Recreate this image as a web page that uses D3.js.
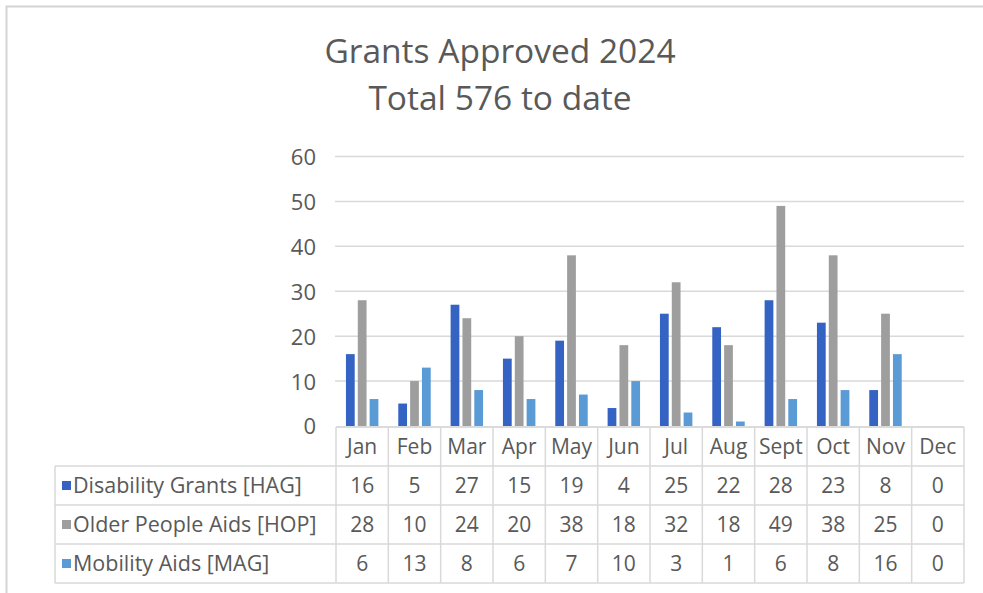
<!DOCTYPE html>
<html>
<head>
<meta charset="utf-8">
<script src="https://cdn.jsdelivr.net/npm/d3@7"></script>
<style>
  html, body { margin: 0; background: #fff; overflow: hidden; }
  svg { display: block; }
  svg text { font-family: "Open Sans", Lato, sans-serif; fill: #595959; }
</style>
</head>
<body>
<svg width="983" height="593"></svg>
<script>
// chart data
const months = ['Jan', 'Feb', 'Mar', 'Apr', 'May', 'Jun', 'Jul', 'Aug', 'Sept', 'Oct', 'Nov', 'Dec']
const seriesNames = ['Disability Grants [HAG]', 'Older People Aids [HOP]', 'Mobility Aids [MAG]']
const hag = [16, 5, 27, 15, 19, 4, 25, 22, 28, 23, 8, 0]
const hop = [28, 10, 24, 20, 38, 18, 32, 18, 49, 38, 25, 0]
const mag = [6, 13, 8, 6, 7, 10, 3, 1, 6, 8, 16, 0]
const colors = ['#3563c4', '#9e9e9e', '#5b9bd5']
const yTicks = [0, 10, 20, 30, 40, 50, 60]
const titleLines = ['Grants Approved 2024', 'Total 576 to date']

const values = [hag, hop, mag]
const svg = d3.select('svg')

// light frame, only left and top edges show
svg.append('path')
  .attr('d', 'M6.5,593 V6.5 H983')
  .attr('fill', 'none')
  .attr('stroke', '#d4d4d4')
  .attr('stroke-width', 2)

// title
svg.append('g').selectAll('text')
  .data(titleLines)
  .join('text')
  .attr('x', 500)
  .attr('y', (d, i) => 63 + i * 47)
  .attr('text-anchor', 'middle')
  .attr('font-size', 33.5)
  .text(d => d)

const x = d3.scaleBand().domain(months).range([336, 964])
const x1 = d3.scaleBand().domain(seriesNames)
  .range([x.bandwidth() * 0.19, x.bandwidth() * 0.81])
  .paddingInner(0.26)
const y = d3.scaleLinear().domain([0, 60]).range([426, 156.5])

// gridlines
svg.append('g').selectAll('line')
  .data(yTicks.slice(1))
  .join('line')
  .attr('x1', 335).attr('x2', 964)
  .attr('y1', d => y(d)).attr('y2', d => y(d))
  .attr('stroke', '#d9d9d9')
  .attr('stroke-width', 1.5)

// y axis labels
const yAxis = svg.append('g')
  .attr('transform', 'translate(316,0)')
  .call(d3.axisLeft(y).tickValues(yTicks).tickSize(0).tickPadding(0))
yAxis.select('.domain').remove()
yAxis.selectAll('text')
  .attr('font-size', 22)
  .attr('font-family', '"Open Sans", sans-serif')
  .attr('fill', '#606060')
  .attr('dy', '0.36em')

// bars
const groups = svg.append('g').selectAll('g')
  .data(months)
  .join('g')
  .attr('transform', d => `translate(${x(d)},0)`)

groups.selectAll('rect')
  .data((m, i) => seriesNames.map((s, k) => ({ s, k, v: values[k][i] })))
  .join('rect')
  .attr('x', d => x1(d.s))
  .attr('width', x1.bandwidth())
  .attr('y', d => y(d.v))
  .attr('height', d => y(0) - y(d.v))
  .attr('fill', d => colors[d.k])

// data table
const rows = d3.scaleBand().domain(['head', ...seriesNames]).range([427, 583])
const table = svg.append('g')
const lineColor = '#d9d9d9'

// horizontal lines
table.append('line')
  .attr('x1', 336).attr('x2', 964)
  .attr('y1', rows('head')).attr('y2', rows('head'))
  .attr('stroke', '#cfcfcf').attr('stroke-width', 1.5)
table.selectAll('.hline')
  .data(seriesNames)
  .join('line')
  .attr('class', 'hline')
  .attr('x1', 55).attr('x2', 964)
  .attr('y1', d => rows(d)).attr('y2', d => rows(d))
  .attr('stroke', lineColor).attr('stroke-width', 1.5)
table.append('line')
  .attr('x1', 55).attr('x2', 964)
  .attr('y1', 583).attr('y2', 583)
  .attr('stroke', lineColor).attr('stroke-width', 1.5)

// vertical lines
table.selectAll('.vline')
  .data([...months.map(m => x(m)), 964])
  .join('line')
  .attr('class', 'vline')
  .attr('x1', d => d).attr('x2', d => d)
  .attr('y1', 427).attr('y2', 583)
  .attr('stroke', lineColor).attr('stroke-width', 1.5)
table.append('line')
  .attr('x1', 55).attr('x2', 55)
  .attr('y1', rows(seriesNames[0])).attr('y2', 583)
  .attr('stroke', lineColor).attr('stroke-width', 1.5)

// month headers
table.selectAll('.month')
  .data(months)
  .join('text')
  .attr('class', 'month')
  .attr('x', d => x(d) + x.bandwidth() / 2)
  .attr('y', rows('head') + rows.bandwidth() / 2)
  .attr('dy', '0.36em')
  .attr('text-anchor', 'middle')
  .attr('font-size', 21)
  .text(d => d)

// series rows
seriesNames.forEach((s, k) => {
  const cy = rows(s) + rows.bandwidth() / 2
  table.append('rect')
    .attr('x', 62).attr('y', cy - 4.5)
    .attr('width', 9).attr('height', 9)
    .attr('fill', colors[k])
  table.append('text')
    .attr('x', 73).attr('y', cy)
    .attr('dy', '0.36em')
    .attr('font-size', 21.5)
    .text(s)
  table.selectAll('.v' + k)
    .data(values[k])
    .join('text')
    .attr('x', (d, i) => x(months[i]) + x.bandwidth() / 2)
    .attr('y', cy)
    .attr('dy', '0.36em')
    .attr('text-anchor', 'middle')
    .attr('font-size', 21)
    .text(d => d)
})
</script>
</body>
</html>
